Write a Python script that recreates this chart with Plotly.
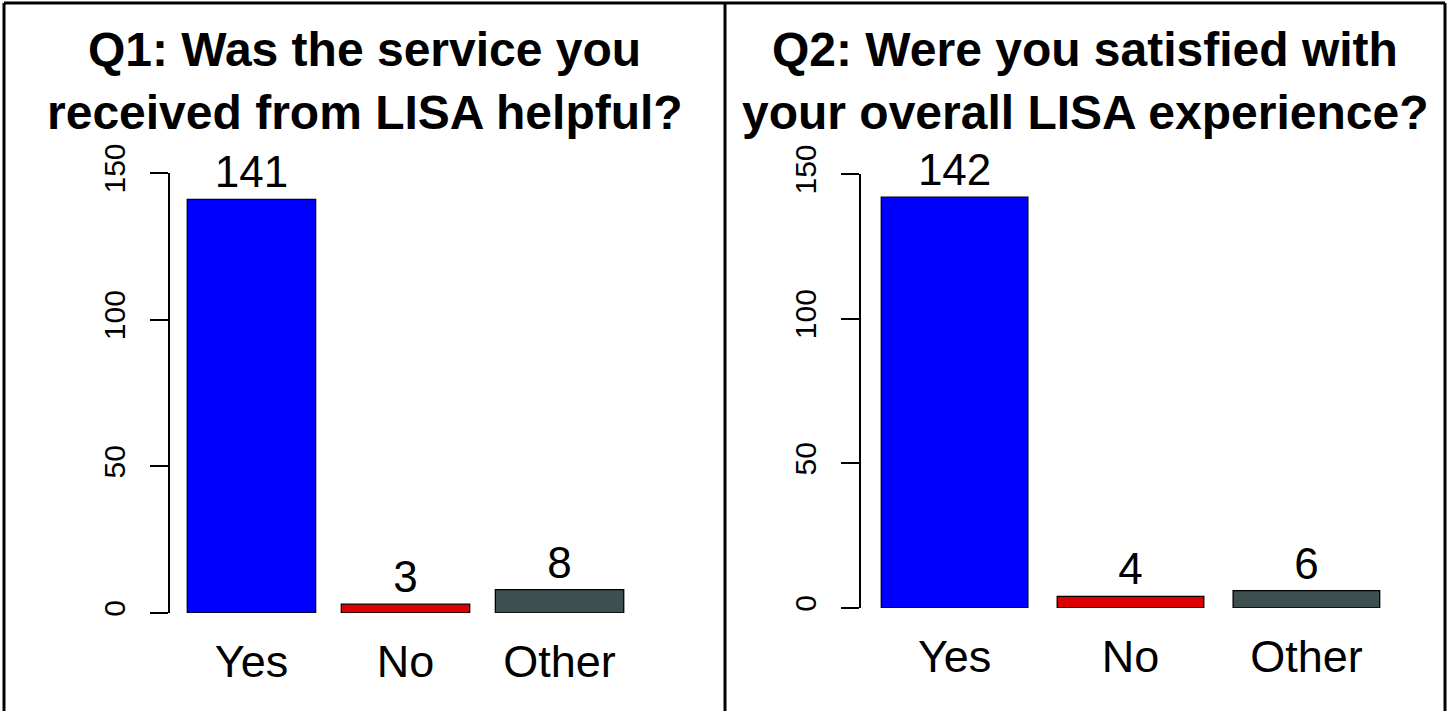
import plotly.graph_objects as go

W, H = 1450, 711

categories = ["Yes", "No", "Other"]
q1_counts = [141, 3, 8]
q2_counts = [142, 4, 6]
bar_colors = ["#0000FF", "#DD0000", "#3D4F4F"]
q1_title = ["Q1: Was the service you", "received from LISA helpful?"]
q2_title = ["Q2: Were you satisfied with", "your overall LISA experience?"]
y_ticks = [0, 50, 100, 150]

FONT = "Liberation Sans, Arial, Helvetica, sans-serif"


def px_x(x):
    return x / W


def px_y(y):
    return (H - y) / H


fig = go.Figure()

for i, (counts, xa, ya) in enumerate([(q1_counts, "x", "y"), (q2_counts, "x2", "y2")]):
    fig.add_trace(go.Bar(
        x=categories, y=counts, xaxis=xa, yaxis=ya,
        marker=dict(color=bar_colors, line=dict(color="#000000", width=1.3)),
        text=[str(v) for v in counts], textposition="outside",
        textfont=dict(size=44, color="#000000", family=FONT),
        constraintext="none", cliponaxis=False, showlegend=False,
        hoverinfo="skip",
    ))

# panel geometry (pixels)
panels = [
    dict(x0=169.5, x1=641.5, ybot=613, ytop=173),
    dict(x0=861, x1=1400, ybot=608, ytop=174),
]

axis_common_x = dict(type="category", range=[-0.532, 2.532], showgrid=False, zeroline=False,
                     showline=False, ticks="", tickfont=dict(size=45, family=FONT, color="#000"),
                     ticklabelstandoff=18, fixedrange=True, automargin=False)
axis_common_y = dict(range=[0, 150], tickvals=y_ticks, ticktext=[str(t) for t in y_ticks],
                     showgrid=False, zeroline=False, showline=True, linecolor="#000",
                     linewidth=2, ticks="outside", ticklen=18, tickwidth=2, tickcolor="#000",
                     tickangle=-90, tickfont=dict(size=30, family=FONT, color="#000"),
                     ticklabelstandoff=13, fixedrange=True, automargin=False)

for idx, p in enumerate(panels):
    sfx = "" if idx == 0 else str(idx + 1)
    fig.update_layout(**{
        "xaxis" + sfx: dict(domain=[px_x(p["x0"]), px_x(p["x1"])], anchor="y" + sfx, **axis_common_x),
        "yaxis" + sfx: dict(domain=[px_y(p["ybot"]), px_y(p["ytop"])], anchor="x" + sfx, **axis_common_y),
    })

annotations = []
for title, cx in [(q1_title, 364.5), (q2_title, 1085)]:
    for line, cy in zip(title, [50, 112]):
        annotations.append(dict(
            text="<b>" + line + "</b>", x=px_x(cx), y=px_y(cy), xref="paper", yref="paper",
            xanchor="center", yanchor="middle", showarrow=False,
            font=dict(size=48, family=FONT, color="#000"),
        ))

shapes = []
# panel borders (no bottom edge visible)
for xs in [4, 725, 1445]:
    shapes.append(dict(type="line", xref="paper", yref="paper",
                       x0=px_x(xs), x1=px_x(xs), y0=-0.01, y1=px_y(3),
                       line=dict(color="#000", width=3)))
shapes.append(dict(type="line", xref="paper", yref="paper",
                   x0=px_x(4), x1=px_x(1445), y0=px_y(3), y1=px_y(3),
                   line=dict(color="#000", width=3)))

fig.update_layout(
    width=W, height=H, margin=dict(l=0, r=0, t=0, b=0, autoexpand=False),
    paper_bgcolor="#FFFFFF", plot_bgcolor="#FFFFFF",
    bargap=1 / 6, annotations=annotations, shapes=shapes,
    font=dict(family=FONT, color="#000"),
)

fig.write_html("out.html", config={"displayModeBar": False},
               post_script="document.body.style.margin='0';")
